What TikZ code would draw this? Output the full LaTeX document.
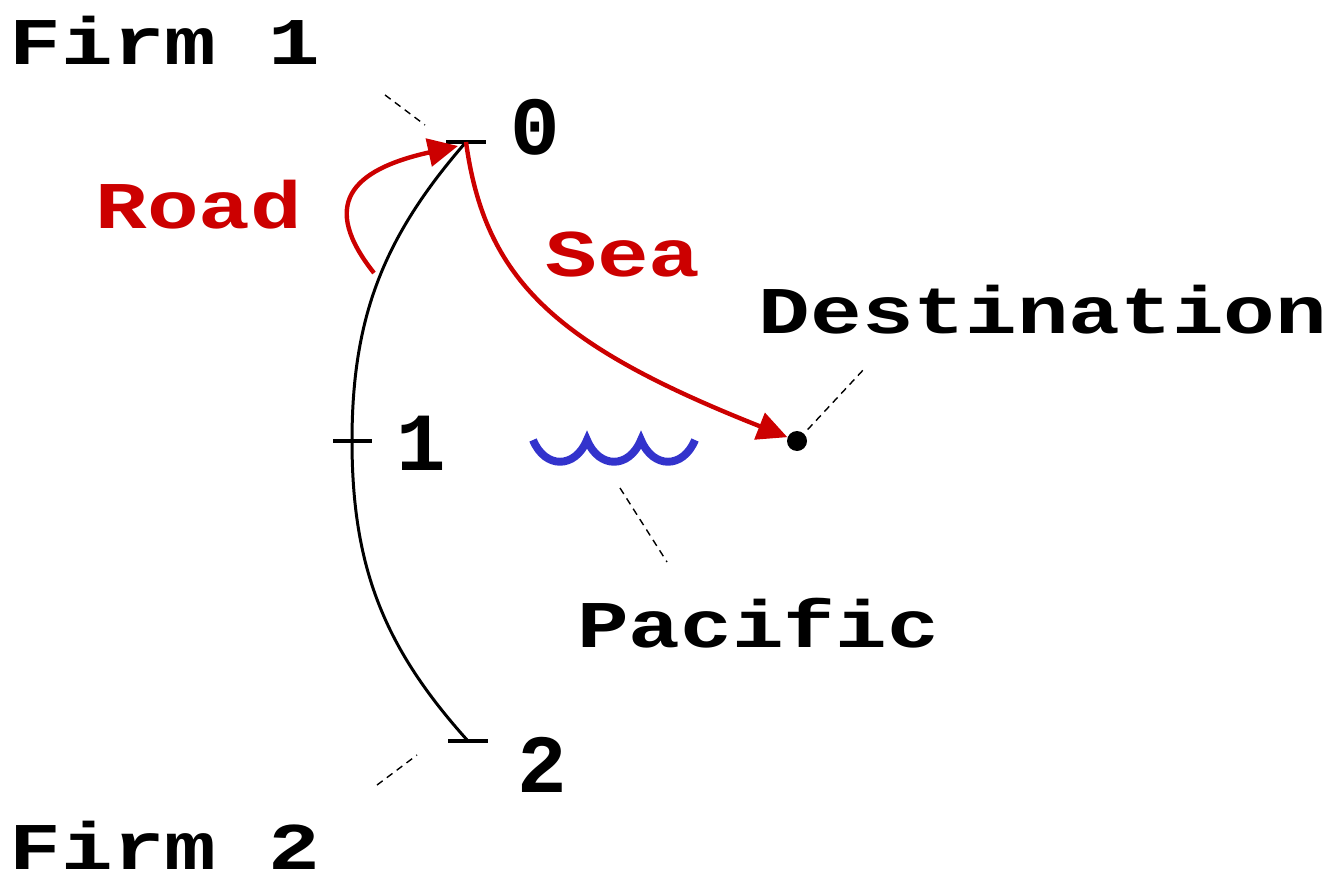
\documentclass[tikz,border=0pt]{standalone}
\usepackage{fontspec}
\newfontfamily\wordfont{Liberation Mono}[FakeStretch=1.29]
\newfontfamily\digitfont{Liberation Mono}
\usepackage{xcolor}
\usetikzlibrary{arrows.meta,positioning}
\definecolor{roadred}{HTML}{CC0000}
\definecolor{seablue}{HTML}{3333CC}
\tikzset{
  tlabel/.style={font=\fontsize{38}{38}\selectfont\wordfont\bfseries,inner sep=0pt,anchor=base},
  rlabel/.style={tlabel,text=roadred},
  dlabel/.style={font=\fontsize{47}{47}\selectfont\digitfont\bfseries,inner sep=0pt,anchor=base},
  tickmark/.style={line width=2pt},
  route/.style={line width=1.7pt},
  redarrow/.style={draw=roadred,line width=2.5pt,-{Triangle[length=6mm,width=5.6mm]}},
  leader/.style={line width=.8pt,dash pattern=on 4pt off 3pt},
  wave/.style={draw=seablue,line width=4.5pt},
  destdot/.style={circle,fill,inner sep=0pt,minimum size=4mm}
}
\begin{document}
\begin{tikzpicture}[x=0.02cm,y=-0.02cm]
  \useasboundingbox (0,0) rectangle (1334,885);
  \node[tlabel] (firmone) at (165,65) {Firm 1};
  \node[tlabel] (firmtwo) at (165,869) {Firm 2};
  \node[dlabel] (lzero) at (535,155) {0};
  \node[dlabel] (lone) at (421,470) {1};
  \node[dlabel] (ltwo) at (542,792) {2};
  \node[rlabel] (road) at (199,228) {Road};
  \node[rlabel] (sea) at (623,276) {Sea};
  \node[tlabel] (dest) at (1043,333) {Destination};
  \node[tlabel] (pacific) at (758,647) {Pacific};
  \node[destdot] (dot) at (797,441) {};
  \coordinate (p0) at (466,142);
  \coordinate (p1) at (352,441);
  \coordinate (p2) at (468,741);
  \coordinate (roadstart) at (374,273);
  \coordinate (roadend) at (458,146);
  \coordinate (wave) at (533,440);
  \coordinate (fa) at (385,95);
  \coordinate (fb) at (425,125);
  \coordinate (fc) at (377,785);
  \coordinate (fd) at (417,755);
  \coordinate (pa) at (620,488);
  \coordinate (pb) at (667,562);
  \coordinate (da) at (865,368);
  \draw[tickmark] (p0) ++(-20,0) -- ++(40,0);
  \draw[tickmark] (p1) ++(-19,0) -- ++(39,0);
  \draw[tickmark] (p2) ++(-20,0) -- ++(40,0);
  \draw[route] (p0) to[out=229,in=90] (p1) to[out=-90,in=132] (p2);
  \draw[redarrow] (roadstart) .. controls (320,205) and (350,170) .. (roadend);
  \draw[redarrow] (p0) .. controls (485,280) and (555,345) .. (dot);
  \draw[wave] (wave) .. controls +(12,29) and +(-12,29) .. ++(54,0)
    .. controls +(12,29) and +(-12,29) .. ++(54,0)
    .. controls +(12,29) and +(-12,29) .. ++(54,0);
  \draw[leader] (fa) -- (fb);
  \draw[leader] (fc) -- (fd);
  \draw[leader] (pa) -- (pb);
  \draw[leader,shorten <=3pt] (dot) -- (da);
\end{tikzpicture}
\end{document}
